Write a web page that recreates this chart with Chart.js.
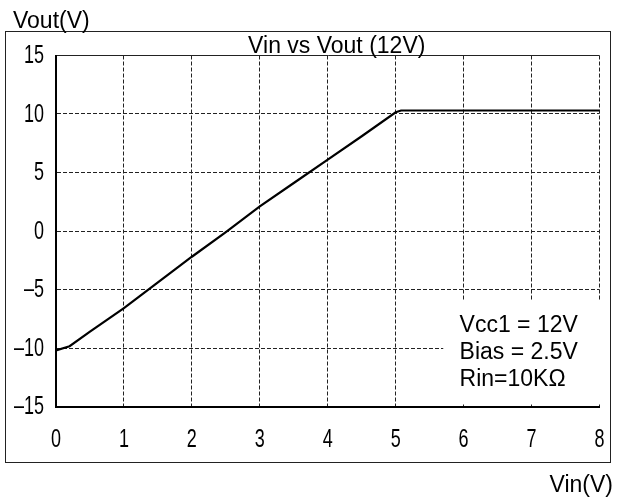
<!DOCTYPE html>
<html>
<head>
<meta charset="utf-8">
<script src="https://cdn.jsdelivr.net/npm/chart.js@4"></script>
<style>
  html, body { margin: 0; padding: 0; background: #fff; }
  #chart { display: block; }
</style>
</head>
<body>
<canvas id="chart" width="617" height="498"></canvas>
<script>
// Vin vs Vout transfer curve
const vin  = [0, 0.2, 0.5, 1, 1.5, 2, 2.5, 3, 3.5, 4, 4.5, 5, 5.08, 6, 7, 8];
const vout = [-10.2, -9.85, -8.6, -6.6, -4.4, -2.2, -0.1, 2.1, 4.1, 6.1, 8.1, 10.15, 10.3, 10.3, 10.3, 10.3];

const xTicks = [0, 1, 2, 3, 4, 5, 6, 7, 8];
const yTicks = [-15, -10, -5, 0, 5, 10, 15];

const titleText = 'Vin vs Vout (12V)';
const xLabel = 'Vin(V)';
const yLabel = 'Vout(V)';
const notes = ['Vcc1 = 12V', 'Bias = 2.5V', 'Rin=10K\u03A9'];

const sansFont = '"Liberation Sans", Arial, sans-serif';
const tickFont = '25px ' + sansFont;
const squeeze = 0.72; // tick digits on the original are tall and narrow

// tick numbers: taken from the scales, drawn horizontally squeezed
function drawTickLabels(chart) {
    const { ctx, scales } = chart;
    ctx.save();
    ctx.fillStyle = '#000';
    ctx.font = tickFont;
    ctx.textBaseline = 'middle';

    ctx.textAlign = 'center';
    scales.x.ticks.forEach(t => {
        const px = scales.x.getPixelForValue(t.value);
        ctx.save();
        ctx.translate(px, 440);
        ctx.scale(squeeze, 1);
        ctx.fillText(String(t.value), 0, 0);
        ctx.restore();
    });

    ctx.textAlign = 'right';
    scales.y.ticks.forEach(t => {
        const py = scales.y.getPixelForValue(t.value);
        ctx.save();
        ctx.translate(44, py + 1);
        ctx.scale(squeeze, 1);
        ctx.fillText(String(t.value).replace('-', '\u2013'), 0, 0);
        ctx.restore();
    });
    ctx.restore();
}

// frame, title, axis names and the note box
const decorations = {
    id: 'decorations',
    beforeDatasetsDraw(chart) {
        const { ctx, chartArea, scales } = chart;
        // white box with the circuit notes hides the grid behind it
        const left = scales.x.getPixelForValue(5.7);
        const top = scales.y.getPixelForValue(-5.9);
        ctx.save();
        ctx.fillStyle = '#fff';
        ctx.fillRect(left, top, chartArea.right + 2 - left, chartArea.bottom - 2 - top);
        ctx.restore();
    },
    afterDraw(chart) {
        const { ctx, chartArea, scales, width, height } = chart;
        drawTickLabels(chart);
        ctx.save();
        // outer frame
        ctx.strokeStyle = '#222';
        ctx.lineWidth = 1;
        ctx.strokeRect(5.5, 31.5, width - 12, height - 67);

        ctx.fillStyle = '#000';
        ctx.font = '23px ' + sansFont;
        ctx.textBaseline = 'alphabetic';

        ctx.textAlign = 'center';
        ctx.fillText(titleText, (chartArea.left + chartArea.right) / 2 + 9, 53);

        ctx.textAlign = 'left';
        ctx.fillText(yLabel, 13, 28);

        ctx.textAlign = 'right';
        ctx.fillText(xLabel, width - 4, 492);

        ctx.textAlign = 'left';
        const nx = scales.x.getPixelForValue(5.94);
        notes.forEach((t, i) => {
            ctx.fillText(t, nx, 332 + i * 27);
        });
        ctx.restore();
    }
};

const points = vin.map((x, i) => ({ x: x, y: vout[i] }));

new Chart(document.getElementById('chart'), {
    type: 'line',
    data: {
        datasets: [{
            data: points,
            borderColor: '#000',
            borderWidth: 2.2,
            pointRadius: 0,
            tension: 0
        }]
    },
    options: {
        responsive: false,
        animation: false,
        devicePixelRatio: 1,
        layout: { padding: { top: 55.5, right: 17.5, bottom: 0, left: 0 } },
        plugins: {
            legend: { display: false },
            tooltip: { enabled: false }
        },
        scales: {
            x: {
                type: 'linear',
                min: 0,
                max: 8,
                afterBuildTicks: s => { s.ticks = xTicks.map(v => ({ value: v })); },
                afterFit: s => { s.height = 91.5; },
                ticks: { display: false },
                grid: { color: '#222', drawTicks: false },
                border: { color: '#000', width: 2, dash: [4, 2] }
            },
            y: {
                min: -15,
                max: 15,
                afterBuildTicks: s => { s.ticks = yTicks.map(v => ({ value: v })); },
                afterFit: s => { s.width = 56; },
                ticks: { display: false },
                grid: { color: '#222', drawTicks: false },
                border: {
                    color: '#000',
                    width: 2,
                    dash: c => (c.tick && c.tick.value === 15 ? [] : [4, 2])
                }
            }
        }
    },
    plugins: [decorations]
});
</script>
</body>
</html>
